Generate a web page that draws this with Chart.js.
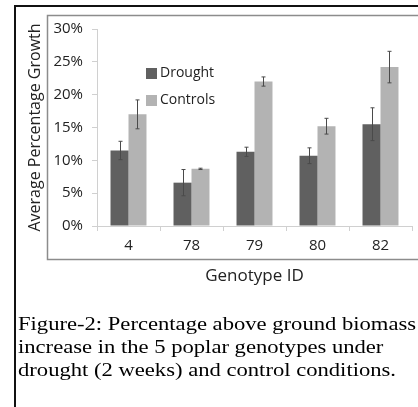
<!DOCTYPE html>
<html>
<head>
<meta charset="utf-8">
<script src="https://cdn.jsdelivr.net/npm/chart.js@4/dist/chart.umd.min.js"></script>
<style>
  html, body { margin: 0; padding: 0; background: #fff; }
  #wrap { position: relative; width: 418px; height: 407px; overflow: hidden; }
  #c { position: absolute; left: 0; top: 0; }
  #caption {
    position: absolute; left: 18px; top: 312px;
    font-family: "Liberation Serif", "Times New Roman", serif;
    font-size: 19px; line-height: 23px; color: #000; white-space: nowrap;
    transform: scaleX(1.19); transform-origin: 0 0;
  }
</style>
</head>
<body>
<div id="wrap">
  <canvas id="c" width="418" height="407"></canvas>
  <div id="caption">Figure-2: Percentage above ground biomass<br>increase in the 5 poplar genotypes under<br>drought (2 weeks) and control conditions.</div>
</div>
<script>
const categories = ["4", "78", "79", "80", "82"];
const seriesNames = ["Drought", "Controls"];
const droughtValues = [11.5, 6.6, 11.3, 10.7, 15.5];
const droughtErrors = [1.4, 2.0, 0.7, 1.2, 2.5];
const controlValues = [17.0, 8.7, 22.0, 15.2, 24.2];
const controlErrors = [2.2, 0.1, 0.7, 1.2, 2.4];
const yTickValues = [0, 5, 10, 15, 20, 25, 30];
const seriesErrors = [droughtErrors, controlErrors];

const frames = {
  id: 'frames',
  beforeDraw(chart) {
    const ctx = chart.ctx;
    ctx.save();
    ctx.strokeStyle = '#111';
    ctx.lineWidth = 2;
    ctx.beginPath();
    ctx.moveTo(15, 420); ctx.lineTo(15, 6); ctx.lineTo(430, 6);
    ctx.stroke();
    ctx.strokeStyle = '#8c8c8c';
    ctx.lineWidth = 1.5;
    ctx.strokeRect(47.5, 15.5, 400, 244);
    ctx.restore();
  },
  afterDatasetsDraw(chart) {
    const ctx = chart.ctx;
    const y = chart.scales.y;
    ctx.save();
    ctx.strokeStyle = '#4a4a4a';
    ctx.lineWidth = 1;
    chart.data.datasets.forEach((ds, i) => {
      const meta = chart.getDatasetMeta(i);
      meta.data.forEach((bar, j) => {
        const v = ds.data[j], e = seriesErrors[i][j];
        const x = Math.round(bar.x) + 0.5;
        const yt = y.getPixelForValue(v + e), yb = y.getPixelForValue(v - e);
        ctx.beginPath();
        ctx.moveTo(x, yt); ctx.lineTo(x, yb);
        ctx.moveTo(x - 2, yt); ctx.lineTo(x + 2, yt);
        ctx.moveTo(x - 2, yb); ctx.lineTo(x + 2, yb);
        ctx.stroke();
      });
    });
    // legend
    ctx.font = '14px "Open Sans"';
    ctx.textBaseline = 'middle';
    ctx.textAlign = 'left';
    const ly = [73, 100];
    chart.data.datasets.forEach((ds, i) => {
      ctx.fillStyle = ds.backgroundColor;
      ctx.fillRect(146, ly[i] - 5, 11, 11);
      ctx.fillStyle = '#222';
      ctx.fillText(ds.label, 160, ly[i] + 0.5);
    });
    ctx.restore();
  }
};

new Chart(document.getElementById('c'), {
  type: 'bar',
  data: {
    labels: categories,
    datasets: [
      { label: seriesNames[0], data: droughtValues, backgroundColor: '#606060', borderWidth: 0 },
      { label: seriesNames[1], data: controlValues, backgroundColor: '#b3b3b3', borderWidth: 0 }
    ]
  },
  options: {
    responsive: false,
    animation: false,
    devicePixelRatio: 1,
    categoryPercentage: 0.571,
    barPercentage: 1.0,
    layout: { padding: { left: 17, top: 29, right: 6, bottom: 117 } },
    plugins: { legend: { display: false }, tooltip: { enabled: false } },
    scales: {
      x: {
        grid: { drawOnChartArea: false, color: '#d0d0d0', tickLength: 5, offset: true },
        border: { color: '#d0d0d0' },
        ticks: { color: '#222', padding: 6, font: { family: 'Open Sans', size: 15 } },
        title: { display: true, text: 'Genotype ID', color: '#222', padding: { top: 0, bottom: 4 }, font: { family: 'Open Sans', size: 17 } },
        afterFit(s) { s.height = 64; }
      },
      y: {
        min: 0, max: 30,
        afterBuildTicks(s) { s.ticks = yTickValues.map(v => ({ value: v })); },
        grid: { drawOnChartArea: false, color: '#d0d0d0', tickLength: 5 },
        border: { color: '#d0d0d0' },
        ticks: { color: '#222', padding: 9, font: { family: 'Open Sans', size: 15 }, callback: v => v + '%' },
        title: { display: true, text: 'Average Percentage Growth', color: '#222', padding: { top: 9, bottom: 0 }, font: { family: 'Open Sans', size: 16 } },
        afterFit(s) { s.width = 80; }
      }
    }
  },
  plugins: [frames]
});
</script>
</body>
</html>
